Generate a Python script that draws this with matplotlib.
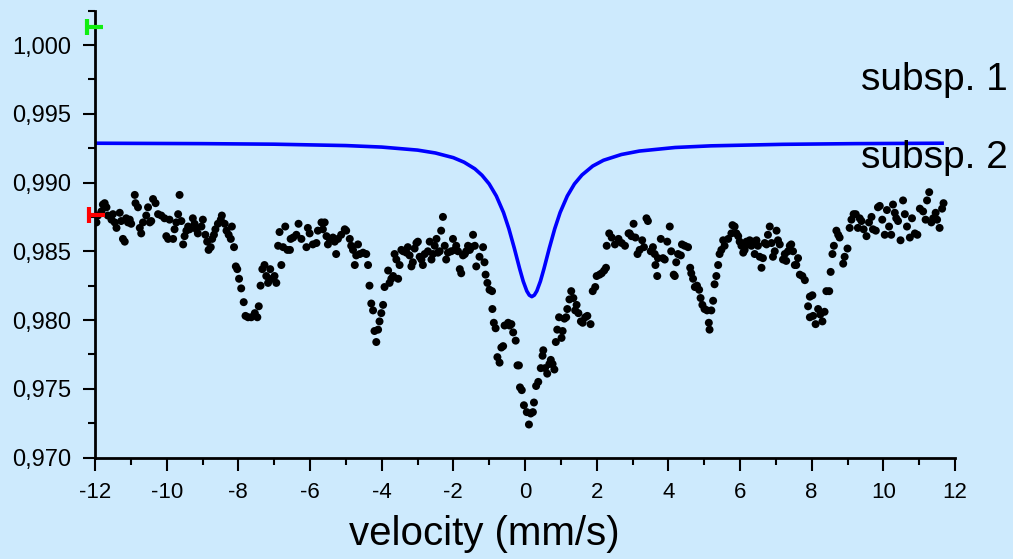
import matplotlib
matplotlib.use('Agg')
import matplotlib.pyplot as plt
from matplotlib.path import Path
from matplotlib.ticker import MultipleLocator, FuncFormatter

plt.rcParams['font.family'] = ['Liberation Sans', 'DejaVu Sans']
plt.rcParams['axes.unicode_minus'] = False

# measured points (velocity in mm/s, relative transmission)
velocity = [
    -11.96, -11.92, -11.82, -11.78, -11.73, -11.68, -11.64, -11.54, -11.50, -11.45,
    -11.40, -11.31, -11.27, -11.22, -11.17, -11.13, -11.08, -11.03, -10.99, -10.89,
    -10.87, -10.80, -10.75, -10.71, -10.66, -10.57, -10.52, -10.47, -10.43, -10.38,
    -10.31, -10.24, -10.15, -10.06, -10.01, -9.96, -9.92, -9.82, -9.78, -9.73,
    -9.68, -9.64, -9.59, -9.54, -9.50, -9.45, -9.40, -9.36, -9.27, -9.22,
    -9.17, -9.13, -9.03, -8.99, -8.92, -8.87, -8.83, -8.77, -8.73, -8.68,
    -8.64, -8.57, -8.49, -8.46, -8.38, -8.33, -8.27, -8.21, -8.18, -8.12,
    -8.07, -8.03, -7.98, -7.92, -7.85, -7.80, -7.73, -7.64, -7.54, -7.47,
    -7.43, -7.38, -7.33, -7.27, -7.22, -7.17, -7.11, -7.06, -6.99, -6.94,
    -6.89, -6.85, -6.80, -6.75, -6.69, -6.63, -6.56, -6.54, -6.47, -6.38,
    -6.32, -6.24,
    -6.10, -6.06, -6.01, -5.92, -5.82, -5.78, -5.68, -5.64, -5.59, -5.54,
    -5.50, -5.45, -5.36, -5.31, -5.27, -5.22, -5.13, -5.03, -4.99, -4.89,
    -4.85, -4.80, -4.75, -4.71, -4.66, -4.61, -4.52, -4.43, -4.38, -4.34,
    -4.29, -4.24, -4.20, -4.15, -4.10, -4.06, -4.01, -3.96, -3.92, -3.82,
    -3.78, -3.73, -3.68, -3.64, -3.59, -3.54, -3.50, -3.45, -3.40, -3.31,
    -3.27, -3.22, -3.17, -3.13, -3.08, -3.03, -2.99, -2.94, -2.89, -2.85,
    -2.80, -2.71, -2.66, -2.61, -2.57, -2.52, -2.47, -2.43, -2.38, -2.34,
    -2.29, -2.24, -2.20, -2.15, -2.06, -2.01, -1.96, -1.92, -1.87, -1.82,
    -1.78, -1.73, -1.68, -1.64, -1.59, -1.54, -1.50, -1.45, -1.40, -1.36,
    -1.27, -1.17, -1.13, -1.10, -1.05, -0.99, -0.92, -0.91, -0.87, -0.82,
    -0.77, -0.71, -0.66, -0.61, -0.57, -0.47, -0.43, -0.38, -0.33, -0.26,
    -0.21,
    -0.17, -0.14, -0.09, -0.03, 0.05, 0.11, 0.16, 0.22, 0.25, 0.31,
    0.37, 0.44, 0.49, 0.51, 0.56, 0.62, 0.68, 0.72, 0.77, 0.82,
    0.86, 0.90, 0.95, 1.02, 1.05, 1.10, 1.15, 1.18, 1.24, 1.29,
    1.35, 1.40, 1.44, 1.49, 1.56, 1.61, 1.68, 1.74, 1.83, 1.89,
    1.96, 2.00, 2.08, 2.14, 2.21, 2.26, 2.28, 2.35, 2.42, 2.51,
    2.61, 2.70, 2.79, 2.89,
    2.92, 2.97, 3.03, 3.08, 3.14, 3.20, 3.27, 3.32, 3.39, 3.43,
    3.51, 3.57, 3.62, 3.64, 3.69, 3.71, 3.79, 3.85, 3.90, 3.97,
    4.04, 4.08, 4.15, 4.18, 4.22, 4.27, 4.35, 4.38, 4.46, 4.55,
    4.61, 4.64, 4.69, 4.74, 4.80, 4.86, 4.90, 4.95, 5.01, 5.08,
    5.13, 5.15, 5.20, 5.25, 5.29, 5.34, 5.39, 5.43, 5.48, 5.53,
    5.57, 5.67, 5.76, 5.79,
    5.85, 5.90, 5.95, 5.99, 6.04, 6.09, 6.13, 6.18, 6.23, 6.27,
    6.32, 6.36, 6.41, 6.46, 6.50, 6.55, 6.60, 6.64, 6.69, 6.74,
    6.78, 6.83, 6.88, 6.92, 6.97, 7.02, 7.06, 7.11, 7.20, 7.25,
    7.29, 7.34, 7.39, 7.43, 7.48, 7.53, 7.57, 7.62, 7.67, 7.74,
    7.81, 7.95, 8.02, 7.90, 7.95, 8.04, 8.11, 8.18, 8.24, 8.30,
    8.36, 8.41, 8.49, 8.53, 8.58, 8.62, 8.69, 8.74, 8.78, 8.88,
    8.92, 9.00, 9.06, 9.11, 9.17, 9.23, 9.29, 9.34, 9.39, 9.45,
    9.53, 9.60, 9.67, 9.71, 9.79, 9.85, 9.90, 9.97, 10.04, 10.10,
    10.16, 10.22, 10.27, 10.32, 10.36, 10.41, 10.48, 10.55, 10.60, 10.66,
    10.74, 10.80, 10.88, 10.95, 11.02, 11.11, 11.18, 11.22, 11.28, 11.34,
    11.39, 11.46, 11.50, 11.57, 11.64, 11.68,
]
transmission = [
    0.9871, 0.9876, 0.9879, 0.9884, 0.9885, 0.9882, 0.9876, 0.9873, 0.9877, 0.9871,
    0.9867, 0.9878, 0.9872, 0.9859, 0.9857, 0.9874, 0.9871, 0.9873, 0.9870, 0.9891,
    0.9885, 0.9882, 0.9867, 0.9863, 0.9871, 0.9876, 0.9882, 0.9871, 0.9872, 0.9888,
    0.9885, 0.9877, 0.9876, 0.9874, 0.9861, 0.9859, 0.9873, 0.9859, 0.9866, 0.9871,
    0.9877, 0.9891, 0.9872, 0.9855, 0.9861, 0.9865, 0.9868, 0.9866, 0.9874, 0.9870,
    0.9866, 0.9863, 0.9868, 0.9873, 0.9862, 0.9857, 0.9851, 0.9853, 0.9859, 0.9862,
    0.9866, 0.9870, 0.9873, 0.9876, 0.9870, 0.9865, 0.9862, 0.9859, 0.9868, 0.9853,
    0.9839, 0.9837, 0.9830, 0.9823, 0.9813, 0.9803, 0.9802, 0.9802, 0.9805, 0.9802,
    0.9810, 0.9825, 0.9837, 0.9840, 0.9832, 0.9827, 0.9837, 0.9830, 0.9832, 0.9827,
    0.9854, 0.9864, 0.9840, 0.9853, 0.9868, 0.9851, 0.9851, 0.9859, 0.9860, 0.9862,
    0.9870, 0.9859,
    0.9853, 0.9867, 0.9863, 0.9855, 0.9856, 0.9865, 0.9871, 0.9866, 0.9871, 0.9861,
    0.9855, 0.9859, 0.9860, 0.9857, 0.9848, 0.9859, 0.9862, 0.9866, 0.9865, 0.9859,
    0.9854, 0.9851, 0.9840, 0.9847, 0.9855, 0.9848, 0.9849, 0.9848, 0.9840, 0.9825,
    0.9812, 0.9807, 0.9792, 0.9784, 0.9793, 0.9799, 0.9805, 0.9811, 0.9824, 0.9836,
    0.9827, 0.9830, 0.9832, 0.9848, 0.9844, 0.9830, 0.9840, 0.9851, 0.9850, 0.9849,
    0.9853, 0.9847, 0.9839, 0.9842, 0.9852, 0.9856, 0.9857, 0.9846, 0.9844, 0.9840,
    0.9848, 0.9850, 0.9857, 0.9844, 0.9848, 0.9854, 0.9859, 0.9849, 0.9850, 0.9865,
    0.9875, 0.9854, 0.9844, 0.9849, 0.9850, 0.9859, 0.9851, 0.9854, 0.9850, 0.9837,
    0.9834, 0.9847, 0.9848, 0.9850, 0.9854, 0.9851, 0.9853, 0.9862, 0.9854, 0.9839,
    0.9846, 0.9853, 0.9842, 0.9833, 0.9827, 0.9822, 0.9821, 0.9808, 0.9798, 0.9794,
    0.9773, 0.9769, 0.9780, 0.9781, 0.9796, 0.9798, 0.9796, 0.9797, 0.9791, 0.9785,
    0.9767,
    0.9767, 0.9751, 0.9749, 0.9738, 0.9733, 0.9724, 0.9732, 0.9733, 0.9740, 0.9752,
    0.9755, 0.9765, 0.9774, 0.9778, 0.9765, 0.9761, 0.9768, 0.9771, 0.9768, 0.9764,
    0.9784, 0.9793, 0.9802, 0.9787, 0.9792, 0.9801, 0.9802, 0.9808, 0.9815, 0.9821,
    0.9816, 0.9807, 0.9811, 0.9805, 0.9799, 0.9798, 0.9802, 0.9803, 0.9797, 0.9821,
    0.9824, 0.9832, 0.9833, 0.9834, 0.9836, 0.9838, 0.9854, 0.9863, 0.9860, 0.9855,
    0.9859, 0.9856, 0.9854, 0.9863,
    0.9863, 0.9861, 0.9870, 0.9860, 0.9848, 0.9851, 0.9858, 0.9853, 0.9874, 0.9872,
    0.9850, 0.9853, 0.9848, 0.9840, 0.9832, 0.9845, 0.9859, 0.9845, 0.9844, 0.9857,
    0.9868, 0.9850, 0.9833, 0.9832, 0.9842, 0.9848, 0.9847, 0.9855, 0.9854, 0.9853,
    0.9838, 0.9834, 0.9830, 0.9824, 0.9825, 0.9822, 0.9816, 0.9811, 0.9808, 0.9807,
    0.9798, 0.9793, 0.9807, 0.9814, 0.9826, 0.9832, 0.9840, 0.9848, 0.9851, 0.9858,
    0.9854, 0.9859, 0.9863, 0.9869,
    0.9868, 0.9863, 0.9861, 0.9857, 0.9854, 0.9849, 0.9851, 0.9857, 0.9855, 0.9858,
    0.9854, 0.9857, 0.9848, 0.9858, 0.9854, 0.9846, 0.9838, 0.9845, 0.9856, 0.9855,
    0.9862, 0.9868, 0.9856, 0.9846, 0.9850, 0.9865, 0.9858, 0.9855, 0.9844, 0.9848,
    0.9843, 0.9850, 0.9854, 0.9855, 0.9850, 0.9840, 0.9840, 0.9845, 0.9833, 0.9832,
    0.9829, 0.9817, 0.9818, 0.9810, 0.9802, 0.9803, 0.9797, 0.9808, 0.9804, 0.9799,
    0.9806, 0.9821, 0.9821, 0.9835, 0.9848, 0.9854, 0.9865, 0.9862, 0.9860, 0.9841,
    0.9846, 0.9852, 0.9867, 0.9873, 0.9877, 0.9877, 0.9867, 0.9874, 0.9872, 0.9866,
    0.9861, 0.9871, 0.9875, 0.9866, 0.9865, 0.9882, 0.9883, 0.9873, 0.9862, 0.9880,
    0.9868, 0.9862, 0.9884, 0.9878, 0.9874, 0.9872, 0.9858, 0.9887, 0.9877, 0.9868,
    0.9860, 0.9874, 0.9863, 0.9862, 0.9881, 0.9879, 0.9873, 0.9887, 0.9893, 0.9871,
    0.9874, 0.9878, 0.9873, 0.9867, 0.9881, 0.9885,
]

# fitted subspectrum
fit_velocity = [-12.0, -9.0, -7.0, -5.0, -4.0, -3.0, -2.5, -2.0, -1.7, -1.4,
                -1.2, -1.0, -0.8, -0.6, -0.45, -0.3, -0.15, -0.05, 0.05, 0.12,
                0.19, 0.26, 0.33, 0.43, 0.53, 0.68, 0.83, 0.98, 1.18, 1.38,
                1.59, 1.89, 2.19, 2.69, 3.19, 4.19, 5.19, 7.19, 9.19, 11.64]
fit_transmission = [0.99286, 0.99283, 0.99279, 0.99269, 0.99258, 0.99236, 0.99215, 0.99181, 0.99148, 0.99100,
                    0.99053, 0.98990, 0.98902, 0.98782, 0.98664, 0.98524, 0.98374, 0.98282, 0.98211, 0.98181,
                    0.98170, 0.98181, 0.98211, 0.98282, 0.98374, 0.98524, 0.98664, 0.98782, 0.98902, 0.98990,
                    0.99055, 0.99120, 0.99162, 0.99204, 0.99229, 0.99255, 0.99267, 0.99278, 0.99283, 0.99286]

# range markers on the left axis
marker_x = [-12.0, -11.94]
marker_y = [1.0013, 0.98764]
marker_colors = ['#11ee11', '#ff0000']

bg = '#cdeafd'
fig = plt.figure(figsize=(10.13, 5.59), dpi=100, facecolor=bg)
ax = fig.add_axes([95 / 1013, 101.5 / 559, 860 / 1013, 446.8 / 559])
ax.set_facecolor(bg)

ax.plot(fit_velocity, fit_transmission, color='#0000ff', lw=2.6, zorder=2)
ax.scatter(velocity, transmission, s=33, color='black', edgecolors='none', zorder=3)

bracket = Path([(-1, -1), (-1, 1), (-1, 0), (1, 0)],
               [Path.MOVETO, Path.LINETO, Path.MOVETO, Path.LINETO])
for mx, my, mc in zip(marker_x, marker_y, marker_colors):
    ax.plot([mx], [my], marker=bracket, ms=12, mew=3, mec=mc, mfc='none',
            ls='none', clip_on=False, zorder=5)

ax.set_xlim(-12, 12)
ax.set_ylim(0.970, 1.0025)

for side in ['top', 'right']:
    ax.spines[side].set_visible(False)
for side in ['left', 'bottom']:
    ax.spines[side].set_linewidth(2)

ax.xaxis.set_major_locator(MultipleLocator(2))
ax.xaxis.set_minor_locator(MultipleLocator(1))
ax.yaxis.set_major_locator(MultipleLocator(0.005))
ax.yaxis.set_minor_locator(MultipleLocator(0.0025))
ax.yaxis.set_major_formatter(FuncFormatter(lambda v, p: f'{v:.3f}'.replace('.', ',')))
ax.xaxis.set_major_formatter(FuncFormatter(lambda v, p: f'{v:.0f}'))

ax.tick_params(which='major', direction='out', length=9, width=1.5, pad=8)
ax.tick_params(axis='y', which='major', labelsize=17)
ax.tick_params(axis='x', which='major', labelsize=16, pad=9)
ax.tick_params(which='minor', direction='out', length=5, width=1.5)

ax.set_xlabel('velocity (mm/s)', fontsize=29)
ax.xaxis.set_label_coords(0.453, -0.128)

fig.text(1008 / 1013, (559 - 90) / 559, 'subsp. 1', fontsize=28, ha='right', va='baseline')
fig.text(1008 / 1013, (559 - 168) / 559, 'subsp. 2', fontsize=28, ha='right', va='baseline')

fig.savefig('out.png', dpi=100, facecolor=bg)
